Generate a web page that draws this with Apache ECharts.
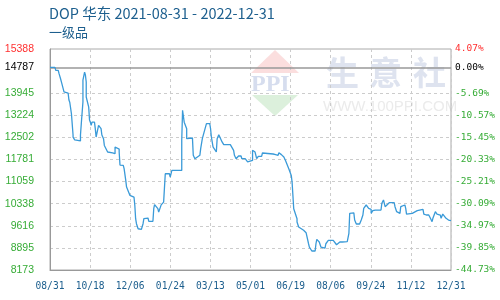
<!DOCTYPE html>
<html>
<head>
<meta charset="utf-8">
<script src="https://cdn.jsdelivr.net/npm/echarts@6/dist/echarts.min.js"></script>
<style>html,body{margin:0;padding:0;background:#fff;}#c{width:500px;height:300px;}</style>
</head>
<body>
<div id="c"></div>
<script>
const titleText = 'DOP 华东 2021-08-31 - 2022-12-31';
const subTitleText = '一级品';
const xTickLabels = ['08/31','10/18','12/06','01/24','03/13','05/01','06/19','08/06','09/24','11/12','12/31'];
const totalDays = 487;
const yMin = 8173, yMax = 15388, yStep = 721.5;
const yLabelValues = [8173, 8894.5, 9616, 10337.5, 11059, 11780.5, 12502, 13223.5, 13945, 14787, 15388];
const yLeftLabels = ['8173','8895','9616','10338','11059','11781','12502','13224','13945','14787','15388'];
const yRightLabels = ['-44.73%','-39.85%','-34.97%','-30.09%','-25.21%','-20.33%','-15.45%','-10.57%','-5.69%','0.00%','4.07%'];
const baseValue = 14787;

// day offset from 2021-08-31
const days = [0,6,7,10,11,13,13,14,15,17,17,22,23,24,25,26,27,28,28,30,30,37,37,38,38,40,40,42,43,44,44,46,47,48,49,50,51,54,55,56,58,59,61,62,63,65,66,67,70,71,76,77,79,79,84,84,85,86,89,90,92,93,95,97,102,103,104,105,107,108,111,112,113,114,115,119,120,125,126,127,129,131,132,134,135,137,138,140,145,146,148,148,160,160,161,162,163,164,166,166,168,173,174,176,178,182,183,185,186,190,194,195,196,198,202,203,205,207,209,211,219,220,223,224,226,228,229,232,233,237,238,240,241,246,246,248,249,251,252,253,257,258,260,271,274,277,278,281,284,286,290,293,294,296,300,300,302,303,308,309,311,313,314,315,316,318,322,323,324,326,327,329,330,334,335,337,338,344,346,348,350,352,353,355,361,363,364,365,369,370,372,376,378,380,381,383,384,385,386,387,388,390,390,392,395,402,403,404,405,406,407,409,412,418,419,421,422,425,426,428,431,432,433,434,435,440,442,446,448,453,454,457,460,462,464,465,467,468,470,472,474,475,477,479,481,484,487];
const prices = [14787,14787,14692,14692,14582,14582,14400,14300,14250,13990,13951,13951,13720,13650,13600,13280,13230,12580,12510,12420,12385,12385,12580,12950,13000,13660,14370,14630,14540,14310,13820,13820,13490,13070,13000,12900,13000,13000,12786,12515,12515,12897,12897,12790,12580,12460,12240,12190,12025,12050,12000,11970,11970,12190,12120,12025,11600,11590,11590,11480,11100,10880,10830,10610,10555,10285,9848,9684,9520,9500,9500,9436,9684,9848,9870,9870,9762,9762,10174,10305,10305,10174,10062,10062,10300,10300,10390,11316,11316,11209,11209,11425,11425,12407,13386,13330,13000,12950,12786,12460,12515,12482,11917,11806,11862,11917,12133,12460,12515,12950,12950,12786,12515,12190,12025,12460,12590,12590,12355,12265,12265,12220,12080,11917,11806,11806,11895,11895,11806,11806,11750,11700,11750,11750,12080,12113,12025,11806,11862,11885,11885,11993,11960,11960,11940,11917,12000,11940,11862,11750,11480,11260,11045,10174,9848,9740,9576,9545,9470,9413,9390,9358,9030,8920,8868,8793,8793,9030,9174,9174,9087,8923,8890,8890,9030,9087,9141,9141,9087,8997,9054,9087,9030,9087,9098,9370,10023,10040,10040,9805,9675,9675,9805,9968,10187,10240,10295,10350,10262,10187,10155,10155,10023,10110,10131,10131,10350,10402,10458,10458,10240,10262,10370,10370,10240,10077,10023,10023,10240,10295,10295,10187,10000,9968,10023,10023,10077,10110,10155,10155,10000,9968,9968,9860,9750,9860,9860,10077,10000,9968,9968,9860,10000,9968,9860,9805,9783];

const green = '#36ac36', red = '#ff3030', black = '#000000';
function labelColor(i) { return i === yLabelValues.length - 1 ? red : (i === yLabelValues.length - 2 ? black : green); }
function labelIndex(v) { let best = 0; for (let i = 1; i < yLabelValues.length; i++) { if (Math.abs(yLabelValues[i] - v) < Math.abs(yLabelValues[best] - v)) best = i; } return best; }

const chart = echarts.init(document.getElementById('c'), null, {renderer: 'canvas'});
const splitColors = [];
for (let i = 0; i <= 10; i++) splitColors.push(i === 9 || i === 10 || i === 0 ? 'rgba(0,0,0,0)' : '#cccccc');

chart.setOption({
  animation: false,
  backgroundColor: '#ffffff',
  title: {
    text: titleText, subtext: subTitleText, left: 49, top: 6, padding: 0, itemGap: 5,
    textStyle: {fontSize: 14.5, fontWeight: 'normal', color: '#1d5f8e', fontFamily: 'Noto Sans CJK SC'},
    subtextStyle: {fontSize: 13, color: '#1d5f8e', fontFamily: 'Noto Sans CJK SC'}
  },
  graphic: [
    {type: 'polygon', z: -10, shape: {points: [[275,50],[299,73],[251,73]]}, style: {fill: '#fbdede'}},
    {type: 'text', z: -10, left: 251, top: 73, style: {text: 'PPI', fontSize: 24, fontWeight: 'bold', fontFamily: 'Liberation Serif', fill: '#d6ddee'}},
    {type: 'polygon', z: -10, shape: {points: [[252,95],[298,95],[275,116]]}, style: {fill: '#dcf0dc'}},
    {type: 'text', z: -10, left: 326, top: 56, style: {text: '生', fontSize: 33, fontWeight: 'bold', fontFamily: 'Noto Sans CJK SC', fill: '#dee3ef'}},
    {type: 'text', z: -10, left: 369, top: 56, style: {text: '意', fontSize: 33, fontWeight: 'bold', fontFamily: 'Noto Sans CJK SC', fill: '#dee3ef'}},
    {type: 'text', z: -10, left: 413, top: 56, style: {text: '社', fontSize: 33, fontWeight: 'bold', fontFamily: 'Noto Sans CJK SC', fill: '#dee3ef'}},
    {type: 'text', z: -10, left: 323, top: 99, style: {text: 'WWW.100PPI.COM', fontSize: 15, fontFamily: 'Liberation Sans', fill: '#ebebeb'}}
  ],
  grid: {left: 50, right: 49, top: 49, bottom: 30, show: true, borderColor: '#aaaaaa', borderWidth: 1, backgroundColor: 'transparent'},
  xAxis: {
    type: 'value', min: 0, max: totalDays, interval: totalDays / 10,
    axisLine: {show: true, lineStyle: {color: '#999999'}},
    axisTick: {show: false},
    splitLine: {show: true, lineStyle: {color: '#cccccc', type: [3, 3], width: 1}},
    axisLabel: {
      margin: 11, fontSize: 9.6, fontFamily: 'DejaVu Sans Mono', color: '#1d5f8e',
      formatter: function (v) { return xTickLabels[Math.round(v / (totalDays / 10))] || ''; }
    }
  },
  yAxis: [
    {
      type: 'value', min: yMin, max: yMax, interval: yStep, position: 'left',
      axisLine: {show: true, lineStyle: {color: '#999999'}},
      axisTick: {show: false},
      splitLine: {show: true, lineStyle: {color: splitColors, type: [3, 3], width: 1}},
      axisLabel: {
        customValues: yLabelValues, margin: 16, fontSize: 10.5, fontFamily: 'Liberation Sans',
        formatter: function (v) { return yLeftLabels[labelIndex(v)]; },
        color: function (v) { return labelColor(labelIndex(v)); }
      }
    },
    {
      type: 'value', min: yMin, max: yMax, interval: yStep, position: 'right',
      axisLine: {show: false}, axisTick: {show: false}, splitLine: {show: false},
      axisLabel: {
        customValues: yLabelValues, margin: 4, fontSize: 9.5, fontFamily: 'DejaVu Sans Mono',
        formatter: function (v) { return yRightLabels[labelIndex(v)]; },
        color: function (v) { return labelColor(labelIndex(v)); }
      }
    }
  ],
  series: [{
    type: 'line', xAxisIndex: 0, yAxisIndex: 0, symbol: 'none', z: 5,
    lineStyle: {color: '#3a9ad8', width: 1.3},
    data: days.map((d, i) => [d, prices[i]]),
    markLine: {
      silent: true, symbol: 'none', label: {show: false},
      lineStyle: {color: '#999999', type: 'solid', width: 1.5},
      data: [{yAxis: baseValue}]
    }
  }]
});
</script>
</body>
</html>
